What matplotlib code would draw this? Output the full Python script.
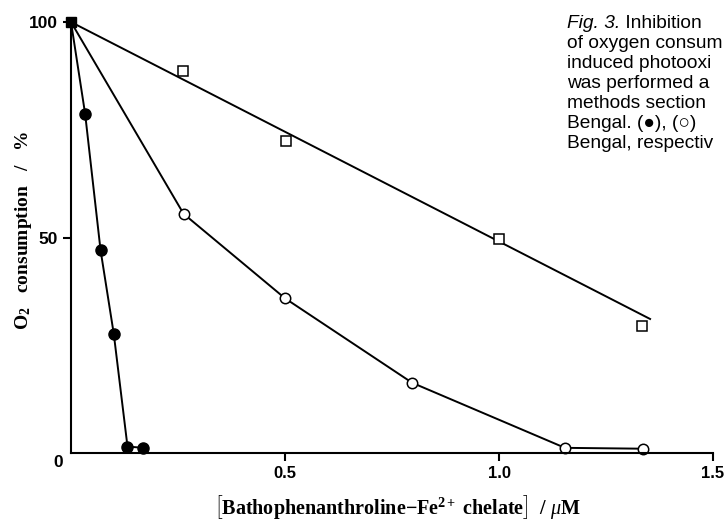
import matplotlib.pyplot as plt

# data (concentration in uM, O2 consumption in %)
filled_x = [0.0, 0.033, 0.069, 0.100, 0.132, 0.169]
filled_y = [100, 78.7, 47.1, 27.6, 1.5, 1.2]

open_x = [0.0, 0.263, 0.500, 0.797, 1.154, 1.336]
open_y = [100, 55.5, 35.9, 16.3, 1.2, 1.0]

square_x = [0.261, 0.502, 0.999, 1.334]
square_y = [88.7, 72.5, 49.6, 29.5]
fit_x = [0.0, 1.353]
fit_y = [100, 31.1]

caption_head = "Fig. 3."
caption = [" Inhibition", "of oxygen consum", "induced photooxi",
           "was performed a", "methods section", "Bengal. (\u25CF), (\u25CB)",
           "Bengal, respectiv"]

plt.rcParams["mathtext.fontset"] = "custom"
plt.rcParams["mathtext.rm"] = "Liberation Serif:bold"
plt.rcParams["mathtext.bf"] = "Liberation Serif:bold"
plt.rcParams["mathtext.it"] = "Liberation Serif:italic"

fig = plt.figure(figsize=(7.26, 5.27), dpi=100)
ax = fig.add_axes([0.0978, 0.1404, 0.8843, 0.8178])

lw = 1.4
ax.plot(fit_x, fit_y, color="black", lw=lw, clip_on=False)
ax.plot(square_x, square_y, ls="none", marker="s", ms=6.5, mfc="white",
        mec="black", mew=1.1, clip_on=False)
ax.plot(open_x, open_y, color="black", lw=lw, marker="o", ms=7.5,
        mfc="white", mec="black", mew=1.1, markevery=list(range(1, len(open_x))),
        clip_on=False)
ax.plot(filled_x, filled_y, color="black", lw=lw, marker="o", ms=8,
        mfc="black", mec="black", markevery=list(range(1, len(filled_x))),
        clip_on=False)
ax.plot([filled_x[0]], [filled_y[0]], ls="none", marker="s", ms=7,
        color="black", clip_on=False, zorder=5)

ax.set_xlim(0, 1.5)
ax.set_ylim(0, 100)
for side in ["top", "right"]:
    ax.spines[side].set_visible(False)
for side in ["left", "bottom"]:
    ax.spines[side].set_linewidth(1.5)

ax.set_xticks([0.5, 1.0, 1.5])
ax.set_xticklabels(["0.5", "1.0", "1.5"])
ax.set_yticks([50, 100])
ax.set_yticklabels(["50", "100"])
ax.tick_params(axis="both", direction="out", length=6, width=1.5,
               labelsize=12.5)
ax.tick_params(axis="x", labelsize=12)
for lab in ax.get_xticklabels() + ax.get_yticklabels():
    lab.set_fontfamily("Liberation Sans")
    lab.set_fontweight("bold")
# the shared origin label sits below-left of the corner
ax.annotate("0", xy=(0, 0), xycoords="axes fraction", xytext=(-13, -9),
            textcoords="offset pixels", ha="center", va="center",
            fontsize=12.5, fontweight="bold", family="Liberation Sans")

fig.text(0.548, 0.038,
         r"$\left[\mathrm{Bathophenanthroline{-}Fe}^{\mathbf{2+}}\ \mathrm{chelate}\right]\ \ /\ \mu\mathrm{M}$",
         ha="center", va="center", fontsize=14.5)
fig.text(0.032, 0.563, r"O$_\mathbf{2}$   consumption   /   %", rotation=90,
         ha="center", va="center", fontsize=14, fontweight="bold",
         family="Liberation Serif")

cap_font = ["Liberation Sans", "DejaVu Sans"]
head = fig.text(567 / 726, 1 - 24 / 527, caption_head, ha="left",
                va="center", fontsize=13.8, style="italic", family=cap_font)
ax.annotate(caption[0], xy=(1, 0.5), xycoords=head, ha="left", va="center",
            fontsize=13.8, family=cap_font, annotation_clip=False)
for i, line in enumerate(caption[1:], start=1):
    fig.text(567 / 726, 1 - (24 + 20 * i) / 527, line, ha="left",
             va="center", fontsize=13.8, family=cap_font)

fig.savefig("out.png", dpi=100)
